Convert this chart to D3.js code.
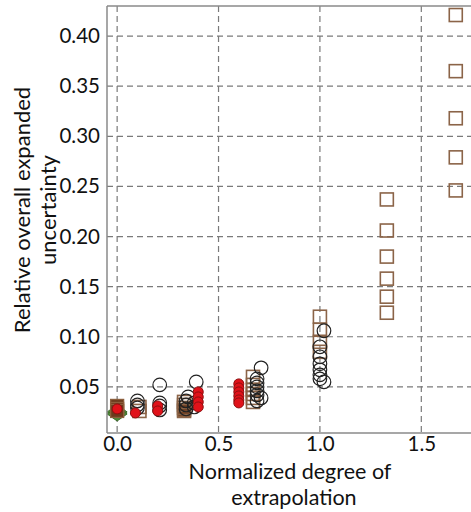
<!DOCTYPE html>
<html>
<head>
<meta charset="utf-8">
<script src="https://cdn.jsdelivr.net/npm/d3@7"></script>
<style>
  html, body { margin: 0; padding: 0; background: #fff; }
  svg { display: block; font-family: Lato, "Open Sans", sans-serif; }
</style>
</head>
<body>
<svg id="chart" width="471" height="512"></svg>
<script>
// Tick values
const xTicks = [0.0, 0.5, 1.0, 1.5];
const yTicks = [0.05, 0.10, 0.15, 0.20, 0.25, 0.30, 0.35, 0.40];

// Open black circles: [x, y]
const openCircles = [
  [0.10, 0.036], [0.10, 0.032], [0.10, 0.029],
  [0.21, 0.052], [0.21, 0.034], [0.21, 0.031], [0.21, 0.027],
  [0.35, 0.040], [0.34, 0.036], [0.34, 0.032], [0.34, 0.028],
  [0.39, 0.055], [0.38, 0.034], [0.38, 0.030],
  [0.71, 0.069], [0.69, 0.058], [0.69, 0.054], [0.69, 0.050], [0.69, 0.046],
  [0.69, 0.042], [0.71, 0.039], [0.69, 0.036],
  [1.02, 0.106], [1.00, 0.090], [1.00, 0.080], [1.00, 0.073], [1.00, 0.067],
  [1.00, 0.062], [1.00, 0.058], [1.02, 0.055]
];

// Filled red circles: [x, y]
const redCircles = [
  [0.00, 0.028],
  [0.09, 0.024],
  [0.20, 0.031], [0.20, 0.026],
  [0.40, 0.045], [0.40, 0.040], [0.40, 0.035], [0.40, 0.030],
  [0.60, 0.053], [0.60, 0.049], [0.60, 0.045], [0.60, 0.041], [0.60, 0.037], [0.60, 0.034]
];

// Open brown squares: [x, y]
const openSquares = [
  [0.11, 0.030], [0.11, 0.026],
  [0.33, 0.035], [0.33, 0.032], [0.33, 0.029], [0.33, 0.026],
  [0.67, 0.060], [0.67, 0.052], [0.67, 0.047], [0.67, 0.043], [0.67, 0.039], [0.67, 0.035],
  [1.00, 0.120], [1.00, 0.107], [1.00, 0.095], [1.00, 0.085],
  [1.33, 0.237], [1.33, 0.206], [1.33, 0.180], [1.33, 0.158], [1.33, 0.140], [1.33, 0.124],
  [1.67, 0.421], [1.67, 0.365], [1.67, 0.318], [1.67, 0.279], [1.67, 0.246]
];

// Filled brown squares: [x, y]
const filledSquares = [
  [0.00, 0.031], [0.00, 0.028], [0.00, 0.026],
  [0.33, 0.027]
];

// Green diamonds: [x, y]
const greenDiamonds = [
  [0.00, 0.025], [0.00, 0.023]
];

const W = 471, H = 512;
const margin = { left: 107, top: 6, right: -1, bottom: 79 };
const innerW = W - margin.left - margin.right;
const innerH = H - margin.top - margin.bottom;

const svg = d3.select("#chart");
const g = svg.append("g").attr("transform", `translate(${margin.left},${margin.top})`);

const x = d3.scaleLinear().domain([-0.05, 1.75]).range([0, innerW]);
const y = d3.scaleLinear().domain([0.004, 0.43]).range([innerH, 0]);

const gridColor = "#7a7a7a";

// Dashed grid
g.append("g").selectAll("line").data(yTicks).join("line")
  .attr("x1", 0).attr("x2", innerW)
  .attr("y1", d => y(d)).attr("y2", d => y(d))
  .attr("stroke", gridColor).attr("stroke-width", 1.2).attr("stroke-dasharray", "6,4");
g.append("g").selectAll("line").data(xTicks).join("line")
  .attr("y1", 0).attr("y2", innerH)
  .attr("x1", d => x(d)).attr("x2", d => x(d))
  .attr("stroke", gridColor).attr("stroke-width", 1.2).attr("stroke-dasharray", "6,4");

// Markers
const sq = 13;
g.append("g").selectAll("path").data(greenDiamonds).join("path")
  .attr("transform", d => `translate(${x(d[0])},${y(d[1])})`)
  .attr("d", "M-10,0L0,-7L10,0L0,7Z")
  .attr("fill", "#4f8a3a").attr("stroke", "#3d6e2c").attr("stroke-width", 1);

g.append("g").selectAll("rect").data(filledSquares).join("rect")
  .attr("x", d => x(d[0]) - sq / 2).attr("y", d => y(d[1]) - sq / 2)
  .attr("width", sq).attr("height", sq)
  .attr("fill", "#6b3a1c").attr("stroke", "#8b5e3c").attr("stroke-width", 1.3);

g.append("g").selectAll("rect").data(openSquares).join("rect")
  .attr("x", d => x(d[0]) - sq / 2).attr("y", d => y(d[1]) - sq / 2)
  .attr("width", sq).attr("height", sq)
  .attr("fill", "none").attr("stroke", "#8b6448").attr("stroke-width", 1.6);

g.append("g").selectAll("circle").data(openCircles).join("circle")
  .attr("cx", d => x(d[0])).attr("cy", d => y(d[1])).attr("r", 6.8)
  .attr("fill", "none").attr("stroke", "#222").attr("stroke-width", 1.2);

g.append("g").selectAll("circle").data(redCircles).join("circle")
  .attr("cx", d => x(d[0])).attr("cy", d => y(d[1])).attr("r", 5)
  .attr("fill", "#e0121a").attr("stroke", "#8e0f0f").attr("stroke-width", 1);

// Frame (left, top, bottom)
const frameColor = "#8a8a8a";
g.append("line").attr("x1", 0).attr("x2", 0).attr("y1", 0).attr("y2", innerH)
  .attr("stroke", frameColor).attr("stroke-width", 1.5);
g.append("line").attr("x1", 0).attr("x2", innerW).attr("y1", 0).attr("y2", 0)
  .attr("stroke", frameColor).attr("stroke-width", 1.5);
g.append("line").attr("x1", 0).attr("x2", innerW).attr("y1", innerH).attr("y2", innerH)
  .attr("stroke", frameColor).attr("stroke-width", 1.5);

// Axes tick labels
const fontFam = "Lato, 'Open Sans', sans-serif";
const yAxis = d3.axisLeft(y).tickValues(yTicks).tickFormat(d3.format(".2f")).tickSize(0).tickPadding(7);
const ya = g.append("g").call(yAxis);
ya.select(".domain").remove();
ya.selectAll("text").attr("font-size", 20.5).attr("fill", "#111").attr("font-family", fontFam);

const xAxis = d3.axisBottom(x).tickValues(xTicks).tickFormat(d3.format(".1f")).tickSize(0).tickPadding(3);
const xa = g.append("g").attr("transform", `translate(0,${innerH})`).call(xAxis);
xa.select(".domain").remove();
xa.selectAll("text").attr("font-size", 20.5).attr("fill", "#111").attr("font-family", fontFam);

// Axis titles
const xTitle = svg.append("text").attr("text-anchor", "middle").attr("font-size", 21.5)
  .attr("fill", "#111").attr("font-family", fontFam);
xTitle.append("tspan").attr("x", 290).attr("y", 479).text("Normalized degree of");
xTitle.append("tspan").attr("x", 294).attr("y", 505).text("extrapolation");

const yTitle = svg.append("text").attr("text-anchor", "middle").attr("font-size", 22)
  .attr("fill", "#111").attr("font-family", fontFam)
  .attr("transform", "rotate(-90)");
yTitle.append("tspan").attr("x", -210).attr("y", 29.5).text("Relative overall expanded");
yTitle.append("tspan").attr("x", -210).attr("y", 56).text("uncertainty");
</script>
</body>
</html>
